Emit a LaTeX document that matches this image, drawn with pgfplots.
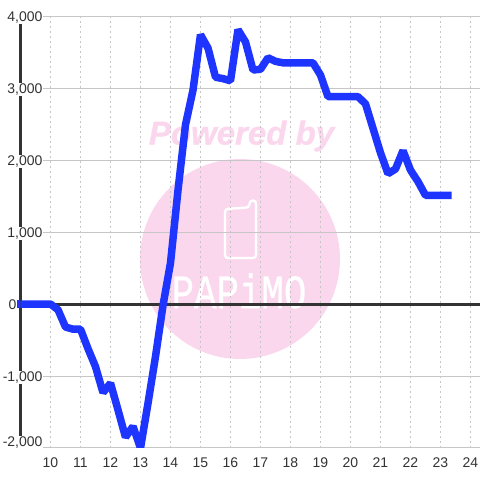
\documentclass[border=0pt]{standalone}
\usepackage{fontspec}
\setmainfont{Liberation Sans}
\newfontfamily\logofont{Liberation Mono}[FakeBold=0.6]
\usepackage{pgfplots}
\pgfplotsset{compat=1.18}
\definecolor{ink}{HTML}{333333}
\definecolor{gridc}{HTML}{C6C6C6}
\definecolor{blueline}{HTML}{1E34FF}
\definecolor{wm}{HTML}{FBD7EE}
\begin{document}
\begin{tikzpicture}
\useasboundingbox (-20.5pt,-32pt) rectangle (459.5pt,448pt);
% watermark, pixel coordinates of the picture
\begin{scope}[shift={(-20.5pt,448pt)},x=1pt,y=-1pt]
\fill[wm] (240,259) circle (100);
\node[wm,font=\fontsize{33}{33}\selectfont\bfseries\itshape\addfontfeature{FakeBold=1},inner sep=0pt] at (241.5,136) {Powered by};
\draw[white,line width=2.4pt,rounded corners=3pt,fill=none] (225,209) -- (249,207.5) -- (250,200.5) -- (256,200.5) -- (256,258) -- (225,258) -- cycle;
\node[white,font=\fontsize{48}{48}\selectfont\logofont,inner sep=0pt] at (239,291) {\scalebox{0.78}[1]{PAPiMO}};
\end{scope}
\begin{axis}[
  scale only axis,
  width=459.5pt,height=432pt,
  xmin=9,xmax=24.317,ymin=-2000,ymax=4000,
  axis x line=bottom,
  axis y line=left,
  x axis line style={draw=none,-},
  y axis line style={draw=ink,line width=3pt,-},
  xtick={10,...,24},
  ytick={1000,2000,3000,4000,-1000},
  extra y ticks={-2000},
  extra y tick style={grid=major,yticklabel style={yshift=6.5pt}},
  minor y tick num=1,
  ymajorgrids,yminorgrids,xmajorgrids,
  major grid style={gridc,line width=1pt},
  minor grid style={gridc,line width=1pt},
  x grid style={gridc,line width=1pt,dash pattern=on 2pt off 3pt},
  tick style={draw=none},
  major tick length=0pt,minor tick length=0pt,
  /pgf/number format/assume math mode=true,
  /pgf/number format/1000 sep={,},
  xticklabel style={font=\fontsize{14}{14}\selectfont,text=ink,anchor=center,yshift=-15pt},
  yticklabel style={font=\fontsize{14}{14}\selectfont,text=ink,anchor=east,fill=white,inner sep=1pt,outer sep=0pt,xshift=23pt,yshift=-1.5pt},
]
\addplot[ink,line width=3pt,forget plot] coordinates {(9,0) (24.317,0)};
\addplot[blueline,line width=7.5pt,line join=bevel,line cap=rect] coordinates {
(9,0)(10,0)(10.25,-80)(10.5,-320)(10.75,-350)(11,-350)(11.25,-620)(11.5,-870)(11.75,-1230)(12,-1100)
(12.25,-1470)(12.5,-1850)(12.75,-1700)(13,-2000)(13.25,-1380)(13.5,-730)(13.75,-20)(14,570)
(14.25,1580)(14.5,2490)(14.75,2970)(15,3740)(15.25,3555)(15.5,3150)(15.75,3130)(16,3100)
(16.25,3810)(16.5,3640)(16.75,3250)(17,3260)(17.25,3420)(17.5,3370)(17.75,3350)(18,3350)
(18.25,3350)(18.5,3350)(18.75,3350)(19,3180)(19.25,2880)(19.5,2880)(19.75,2880)(20,2880)
(20.25,2880)(20.5,2780)(20.75,2440)(21,2100)(21.25,1810)(21.5,1875)(21.75,2130)(22,1860)
(22.25,1700)(22.5,1510)(22.75,1510)(23,1510)(23.25,1510)};
\end{axis}
% zero label and the cap of the series left of the axis
\node[font=\fontsize{14}{14}\selectfont,text=ink,inner sep=0pt,anchor=east] at (-4pt,143pt) {0};
\fill[blueline] (-3.5pt,140.25pt) rectangle (0pt,147.75pt);
\end{tikzpicture}
\end{document}
